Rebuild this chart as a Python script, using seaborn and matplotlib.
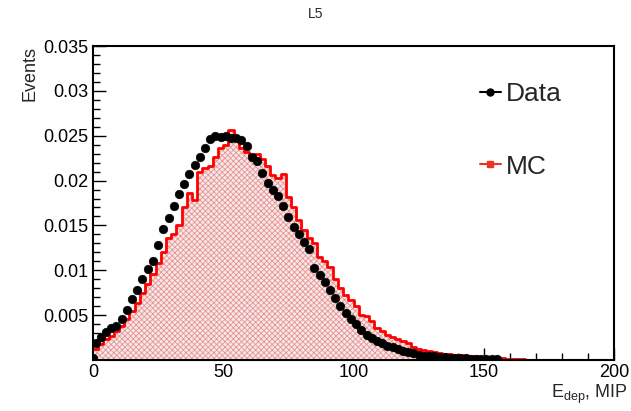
import numpy as np
import pandas as pd
import matplotlib
matplotlib.use("Agg")
import matplotlib.pyplot as plt
from matplotlib.lines import Line2D
import seaborn as sns

# ---------------- data ----------------
title = "L5"
x_label = "E$_{\\mathregular{dep}}$, MIP"
y_label = "Events"
y_ticks = [0.005, 0.01, 0.015, 0.02, 0.025, 0.03, 0.035]
y_tick_labels = ["0.005", "0.01", "0.015", "0.02", "0.025", "0.03", "0.035"]
x_ticks = [0, 50, 100, 150, 200]

data_x = [0, 1, 3, 5, 7, 9, 11, 13, 15, 17, 19, 21, 23, 25, 27, 29, 31, 33, 35, 37, 39,
          41, 43, 45, 47, 49, 51, 53, 55, 57, 59, 61, 63, 65, 67, 69, 71, 73, 75, 77, 79,
          81, 83, 85, 87, 89, 91, 93, 95, 97, 99, 101, 103, 105, 107, 109, 111, 113, 115,
          117, 119, 121, 123, 125, 127, 129, 131, 133, 135, 137, 139, 141, 143, 145, 147,
          149, 151, 153, 155]
data_y = [0.0002, 0.0019, 0.0026, 0.0031, 0.0036, 0.0038, 0.0046, 0.0056, 0.0068, 0.0078,
          0.0090, 0.0101, 0.0110, 0.0128, 0.0146, 0.0158, 0.0172, 0.0185, 0.0196, 0.0207,
          0.0217, 0.0226, 0.0236, 0.0246, 0.0250, 0.0249, 0.0250, 0.0248, 0.0248, 0.0245,
          0.0238, 0.0226, 0.0222, 0.0208, 0.0197, 0.0190, 0.0183, 0.0172, 0.0159, 0.0148,
          0.0140, 0.0132, 0.0124, 0.0102, 0.0095, 0.0087, 0.0078, 0.0069, 0.0060, 0.0052,
          0.0046, 0.0040, 0.0033, 0.0028, 0.0024, 0.0021, 0.0019, 0.0016, 0.0014, 0.0012,
          0.0010, 0.0009, 0.0008, 0.0006, 0.0005, 0.0005, 0.0004, 0.0003, 0.0003, 0.0002,
          0.0002, 0.0002, 0.0002, 0.0001, 0.0001, 0.0001, 0.0001, 0.0001, 0.0001]

mc_edges = list(range(0, 202, 2))
mc_y = [0.0012, 0.0018, 0.0023, 0.0027, 0.0032, 0.0038, 0.0046, 0.0055, 0.0064, 0.0075,
        0.0085, 0.0096, 0.0108, 0.0120, 0.0136, 0.0140, 0.0150, 0.0170, 0.0186, 0.0178,
        0.0210, 0.0214, 0.0216, 0.0226, 0.0236, 0.0240, 0.0256, 0.0246, 0.0236, 0.0232,
        0.0227, 0.0230, 0.0224, 0.0216, 0.0206, 0.0203, 0.0207, 0.0182, 0.0170, 0.0156,
        0.0145, 0.0136, 0.0130, 0.0115, 0.0110, 0.0104, 0.0090, 0.0080, 0.0073, 0.0067,
        0.0060, 0.0050, 0.0049, 0.0044, 0.0036, 0.0032, 0.0028, 0.0026, 0.0023, 0.0021,
        0.0019, 0.0014, 0.0012, 0.0011, 0.0010, 0.0009, 0.0008, 0.0007, 0.0007, 0.0006,
        0.0006, 0.0005, 0.0004, 0.0004, 0.0003, 0.0003, 0.0002, 0.0002, 0.0002, 0.0001,
        0.0001, 0.0001, 0.0001, 0.0000, 0.0000, 0.0000, 0.0000, 0.0000, 0.0000, 0.0000,
        0.0000, 0.0000, 0.0000, 0.0000, 0.0000, 0.0000, 0.0000, 0.0000, 0.0000, 0.0000]

legend_labels = ["Data", "MC"]

# ---------------- plot ----------------
sns.set_theme(style="ticks")
plt.rcParams['font.family'] = ['Liberation Sans', 'DejaVu Sans']
plt.rcParams['hatch.linewidth'] = 0.6

fig = plt.figure(figsize=(6.31, 4.11), dpi=100)
ax = fig.add_axes([93/631, 1-360/411, (614-93)/631, (360-46)/411])

mc_centers = [(mc_edges[i] + mc_edges[i+1]) / 2 for i in range(len(mc_y))]
mc_df = pd.DataFrame({"x": mc_centers, "w": mc_y})

# hatched pink fill
sns.histplot(data=mc_df, x="x", weights="w", bins=mc_edges, element="step", fill=True,
             color="#f2b8b8", ax=ax, linewidth=0)
for coll in ax.collections:
    coll.set_facecolor("#f9e6e6")
    coll.set_edgecolor("#e59494")
    coll.set_hatch("xxxxxx")
    coll.set_linewidth(0)

# red outline
sns.histplot(data=mc_df, x="x", weights="w", bins=mc_edges, element="step", fill=False,
             color="#ff0000", ax=ax, linewidth=2.0)

data_df = pd.DataFrame({"x": data_x, "y": data_y})
sns.scatterplot(data=data_df, x="x", y="y", color="black", s=40, edgecolor="black",
                linewidth=0.3, ax=ax, zorder=5)

ax.set_xlim(0, 200)
ax.set_ylim(0, 0.035)
ax.set_xticks(x_ticks)
ax.set_xticks(np.arange(0, 201, 10), minor=True)
ax.set_yticks(y_ticks)
ax.set_yticklabels(y_tick_labels)
ax.set_yticks(np.arange(0.001, 0.0351, 0.001), minor=True)
ax.tick_params(axis="both", which="both", direction="in", labelsize=13, colors="black",
               top=False, right=False)
ax.tick_params(axis="both", which="major", length=9, width=1.0)
ax.tick_params(axis="both", which="minor", length=5, width=1.0)
ax.tick_params(axis="x", pad=3)
ax.set_xlabel("")
ax.set_ylabel("")
for s in ax.spines.values():
    s.set_color("black")
    s.set_linewidth(1.5)

fig.text(0.5, 1-14/411, title, ha="center", va="center", fontsize=10)
fig.text(628/631, 1-394/411, x_label, ha="right", va="center", fontsize=13)
fig.text(30/631, 1-46/411, y_label, ha="center", va="top", rotation=90, fontsize=13)

handles = [Line2D([0], [0], color="black", marker="o", markersize=5, linewidth=1.5),
           Line2D([0], [0], color="#ee3322", marker="s", markersize=5, linewidth=1.5)]
fig.legend(handles, legend_labels, loc="upper left", bbox_to_anchor=(456/631, 1-58/411),
           frameon=False, fontsize=19, handlelength=0.8, handletextpad=0.2,
           labelspacing=1.85)

fig.savefig("out.png", dpi=100)
